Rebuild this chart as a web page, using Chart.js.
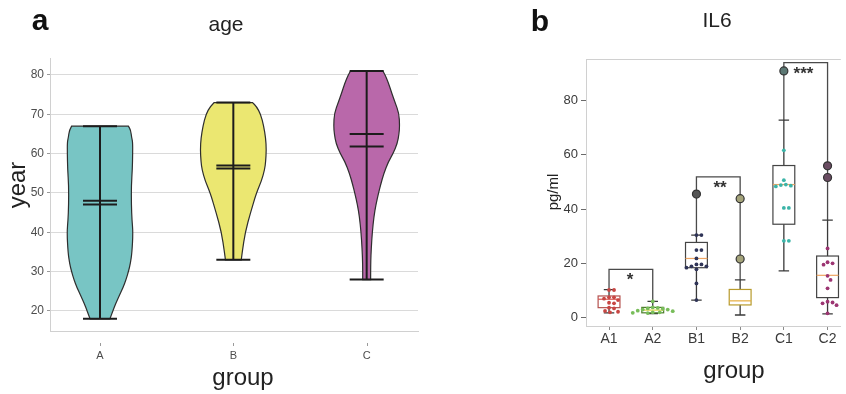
<!DOCTYPE html>
<html>
<head>
<meta charset="utf-8">
<script src="https://cdn.jsdelivr.net/npm/chart.js@4.4.1/dist/chart.umd.min.js"></script>
<style>
  html, body { margin: 0; padding: 0; background: #ffffff; }
  #wrap { position: relative; width: 846px; height: 394px; overflow: hidden; }
  #wrap canvas { position: absolute; left: 0; top: 0; }
</style>
</head>
<body>
<div id="wrap">
  <canvas id="age" width="846" height="394"></canvas>
  <canvas id="il6" width="846" height="394"></canvas>
</div>
<script>
// ---------- panel a: age per group (violins) ----------
const ageGroups = ['A', 'B', 'C'];
const ageMin = [18, 33, 28];
const ageMax = [67, 73, 81];
const ageMedian = [48.0, 57.0, 65.0];
const ageMean = [47.1, 56.2, 61.8];
const ageTicks = [20, 30, 40, 50, 60, 70, 80];

// density profile of each violin: levels (years) and relative width (max = 1)
const ageLevelsA = [18, 20, 22, 24, 26, 28, 30, 32, 35, 40, 43, 47, 52, 56, 60, 63, 64, 66, 67];
const ageDensityA = [0.30, 0.39, 0.48, 0.59, 0.70, 0.79, 0.86, 0.92, 0.97, 1.0, 0.97, 0.95, 0.95, 0.98, 0.99, 0.99, 0.96, 0.93, 0.86];
const ageLevelsB = [33, 35, 40, 45, 50, 53, 56, 58, 61, 64, 67, 70, 72, 73];
const ageDensityB = [0.24, 0.27, 0.36, 0.52, 0.70, 0.85, 0.95, 0.98, 1.0, 0.98, 0.92, 0.83, 0.70, 0.58];
const ageLevelsC = [28, 32, 36, 40, 44, 47, 50, 52, 55, 58, 60, 62.6, 65, 67, 70.3, 73, 75.4, 78, 80, 81];
const ageDensityC = [0.12, 0.12, 0.14, 0.17, 0.22, 0.28, 0.36, 0.42, 0.52, 0.66, 0.80, 0.93, 0.98, 1.0, 0.98, 0.86, 0.76, 0.66, 0.56, 0.49];

// ---------- panel b: IL6 per group (box plots) ----------
const il6Groups = ['A1', 'A2', 'B1', 'B2', 'C1', 'C2'];
const il6Low    = [1.8, 1.5, 6.5, 1.0, 17.2, 1.4];
const il6Q1     = [3.7, 1.8, 18.4, 4.7, 34.4, 7.4];
const il6Median = [6.8, 2.8, 21.8, 6.2, 49.0, 15.6];
const il6Q3     = [8.0, 3.8, 27.7, 10.4, 56.0, 22.7];
const il6High   = [10.3, 6.0, 30.4, 13.9, 72.7, 35.9];
const il6Outliers = [[], [], [45.5], [21.6, 43.8], [90.8], [51.6, 55.9]];
const il6Ticks = [0, 20, 40, 60, 80];

// individual measurements
const il6ValuesA1 = [10.2, 10.2, 7.5, 7.0, 7.5, 6.5, 5.5, 5.3, 3.7, 3.4, 2.2, 2.0, 2.5];
const il6ValuesA2 = [3.0, 2.6, 2.0, 1.8, 1.7, 2.0, 2.4, 3.0, 3.8, 3.6, 6.0, 3.3, 3.4];
const il6ValuesB1 = [30.4, 30.4, 24.9, 24.9, 21.8, 19.6, 18.9, 18.4, 18.9, 19.6, 17.8, 12.6, 6.5];
const il6ValuesC1 = [61.6, 50.6, 48.6, 48.3, 48.8, 49.0, 40.4, 40.4, 28.3, 28.3];
const il6ValuesC2 = [25.5, 20.4, 19.5, 20.0, 15.4, 13.9, 10.8, 5.9, 5.3, 5.6, 4.6, 1.6];

// significance brackets: [left group, right group, bracket height, label, label x, label y]
const il6Pairs = [
  [0, 1, 17.8, '*',   1.48, 15.0],
  [2, 3, 51.8, '**',  3.54, 48.8],
  [4, 5, 93.9, '***', 5.45, 90.7]
];

const FONT = '"Liberation Sans", Arial, Helvetica, sans-serif';

// ---------- styling ----------
const violinFill = ['#78c5c4', '#ebe771', '#b968aa'];
const VIOLIN_HALF = 0.2475;   // half width of the widest part, in category units
const boxEdge = ['#b4524f', '#4d7c2c', '#444444', '#b79a2c', '#444444', '#444444'];
const boxMedianColor = ['#d9534f', '#e3d548', '#efa562', '#e6ad3c', '#efa562', '#efa562'];
const dotColor = ['#c84643', '#78bd5a', '#2f3457', null, '#3cb4a8', '#9c3572'];
const outlierFill = ['#666', '#666', '#555555', '#a4a37a', '#5c7874', '#6a4c62'];

// ---------- helpers ----------
function traceSmooth(ctx, pts, start) {
  if (start) ctx.moveTo(pts[0][0], pts[0][1]); else ctx.lineTo(pts[0][0], pts[0][1]);
  for (let k = 1; k < pts.length - 1; k++) {
    const mx = (pts[k][0] + pts[k + 1][0]) / 2, my = (pts[k][1] + pts[k + 1][1]) / 2;
    ctx.quadraticCurveTo(pts[k][0], pts[k][1], mx, my);
  }
  const last = pts[pts.length - 1];
  ctx.lineTo(last[0], last[1]);
}

const ageLevels = [ageLevelsA, ageLevelsB, ageLevelsC];
const ageDensity = [ageDensityA, ageDensityB, ageDensityC];

const violinPlugin = {
  id: 'violins',
  beforeDatasetsDraw(chart) {
    const { ctx, scales: { x, y } } = chart;
    ctx.save();
    ageGroups.forEach((g, i) => {
      const c = i + 1;
      const lv = ageLevels[i], dn = ageDensity[i];
      const right = lv.map((v, k) => [x.getPixelForValue(c + dn[k] * VIOLIN_HALF), y.getPixelForValue(v)]);
      const left = lv.map((v, k) => [x.getPixelForValue(c - dn[k] * VIOLIN_HALF), y.getPixelForValue(v)]).reverse();
      ctx.beginPath();
      traceSmooth(ctx, right, true);
      traceSmooth(ctx, left, false);
      ctx.closePath();
      ctx.fillStyle = violinFill[i];
      ctx.fill();
      ctx.lineWidth = 1.2;
      ctx.strokeStyle = '#2e2e2e';
      ctx.stroke();
      // range line
      ctx.beginPath();
      ctx.moveTo(x.getPixelForValue(c), y.getPixelForValue(ageMin[i]));
      ctx.lineTo(x.getPixelForValue(c), y.getPixelForValue(ageMax[i]));
      ctx.lineWidth = 2;
      ctx.strokeStyle = '#1c1c1c';
      ctx.stroke();
    });
    ctx.restore();
  }
};

const ageText = {
  id: 'ageText',
  afterDraw(chart) {
    const { ctx, scales: { x } } = chart;
    ctx.save();
    ctx.fillStyle = '#111';
    ctx.textAlign = 'center';
    ctx.textBaseline = 'alphabetic';
    ctx.font = 'bold 30px ' + FONT;
    ctx.fillText('a', 40, 30);
    ctx.fillStyle = '#222';
    ctx.font = '21px ' + FONT;
    ctx.fillText('age', 226, 31);
    ctx.font = '24px ' + FONT;
    ctx.fillText('group', 243, 385);
    ctx.save();
    ctx.translate(25, 185);
    ctx.rotate(-Math.PI / 2);
    ctx.fillText('year', 0, 0);
    ctx.restore();
    // small category marks above the labels
    ctx.strokeStyle = '#9a9a9a';
    ctx.lineWidth = 1;
    ageGroups.forEach((g, i) => {
      const px = Math.round(x.getPixelForValue(i + 1)) + 0.5;
      ctx.beginPath(); ctx.moveTo(px, 343); ctx.lineTo(px, 346); ctx.stroke();
    });
    ctx.restore();
  }
};

const lineMark = (vals, label) => ({
  label,
  data: vals.map((v, i) => ({ x: i + 1, y: v })),
  pointStyle: 'line',
  pointRadius: 17,
  borderWidth: 2,
  borderColor: '#1c1c1c',
  backgroundColor: '#1c1c1c'
});

new Chart(document.getElementById('age'), {
  type: 'scatter',
  data: {
    datasets: [
      lineMark(ageMedian, 'median'),
      lineMark(ageMean, 'mean'),
      lineMark(ageMin, 'min'),
      lineMark(ageMax, 'max')
    ]
  },
  options: {
    responsive: false,
    animation: false,
    devicePixelRatio: 1,
    events: [],
    layout: { padding: { left: 0, top: 58, right: 428, bottom: 23 } },
    plugins: { legend: { display: false }, tooltip: { enabled: false } },
    scales: {
      x: {
        type: 'linear', min: 0.625, max: 3.385,
        afterBuildTicks: s => { s.ticks = ageGroups.map((g, i) => ({ value: i + 1 })); },
        afterFit: s => { s.height = 40; },
        grid: { display: false },
        border: { display: true, color: '#d0d0d0', width: 1 },
        ticks: {
          autoSkip: false, maxRotation: 0, padding: 10, color: '#4d4d4d',
          font: { family: FONT, size: 11 },
          callback: v => ageGroups[Math.round(v) - 1]
        }
      },
      y: {
        type: 'linear', min: 14.915, max: 84.32,
        afterBuildTicks: s => { s.ticks = ageTicks.map(v => ({ value: v })); },
        afterFit: s => { s.width = 50; },
        grid: { color: '#dadada', lineWidth: 1, tickLength: 3, tickColor: '#9a9a9a' },
        border: { display: true, color: '#d0d0d0', width: 1 },
        ticks: { padding: 3, color: '#4d4d4d', font: { family: FONT, size: 12 } }
      }
    }
  },
  plugins: [violinPlugin, ageText]
});

// ---------- panel b ----------
const BOX_HALF = 0.25;
const CAP_HALF = 0.12;

const boxPlugin = {
  id: 'boxes',
  beforeDatasetsDraw(chart) {
    const { ctx, chartArea, scales: { x, y } } = chart;
    ctx.save();
    // top frame line
    ctx.strokeStyle = '#d0d0d0';
    ctx.lineWidth = 1;
    ctx.beginPath();
    ctx.moveTo(chartArea.left, Math.round(chartArea.top) + 0.5);
    ctx.lineTo(chartArea.right, Math.round(chartArea.top) + 0.5);
    ctx.stroke();
    // brackets
    ctx.strokeStyle = '#4a4a4a';
    ctx.lineWidth = 1.3;
    il6Pairs.forEach(([a, b, h]) => {
      ctx.beginPath();
      ctx.moveTo(x.getPixelForValue(a + 1), y.getPixelForValue(il6High[a]));
      ctx.lineTo(x.getPixelForValue(a + 1), y.getPixelForValue(h));
      ctx.lineTo(x.getPixelForValue(b + 1), y.getPixelForValue(h));
      ctx.lineTo(x.getPixelForValue(b + 1), y.getPixelForValue(il6High[b]));
      ctx.stroke();
    });
    il6Groups.forEach((g, i) => {
      const c = i + 1;
      const px = x.getPixelForValue(c);
      // whiskers
      ctx.strokeStyle = '#3a3a3a';
      ctx.lineWidth = 1.3;
      ctx.beginPath();
      ctx.moveTo(px, y.getPixelForValue(il6Low[i]));
      ctx.lineTo(px, y.getPixelForValue(il6High[i]));
      [il6Low[i], il6High[i]].forEach(v => {
        ctx.moveTo(x.getPixelForValue(c - CAP_HALF), y.getPixelForValue(v));
        ctx.lineTo(x.getPixelForValue(c + CAP_HALF), y.getPixelForValue(v));
      });
      ctx.stroke();
      // box
      const l = x.getPixelForValue(c - BOX_HALF), r = x.getPixelForValue(c + BOX_HALF);
      const t = y.getPixelForValue(il6Q3[i]), b = y.getPixelForValue(il6Q1[i]);
      ctx.fillStyle = '#ffffff';
      ctx.fillRect(l, t, r - l, b - t);
      ctx.strokeStyle = boxEdge[i];
      ctx.lineWidth = 1.2;
      ctx.strokeRect(l, t, r - l, b - t);
      // median
      ctx.strokeStyle = boxMedianColor[i];
      ctx.lineWidth = 1.2;
      ctx.beginPath();
      ctx.moveTo(l, y.getPixelForValue(il6Median[i]));
      ctx.lineTo(r, y.getPixelForValue(il6Median[i]));
      ctx.stroke();
    });
    ctx.restore();
  },
  afterDraw(chart) {
    const { ctx, scales: { x, y } } = chart;
    ctx.save();
    ctx.textAlign = 'center';
    ctx.textBaseline = 'alphabetic';
    ctx.fillStyle = '#111';
    ctx.font = 'bold 30px ' + FONT;
    ctx.fillText('b', 540, 31);
    ctx.fillStyle = '#222';
    ctx.font = '21px ' + FONT;
    ctx.fillText('IL6', 717, 27);
    ctx.font = '24px ' + FONT;
    ctx.fillText('group', 734, 378);
    ctx.save();
    ctx.translate(558, 192);
    ctx.rotate(-Math.PI / 2);
    ctx.font = '15px ' + FONT;
    ctx.fillText('pg/ml', 0, 0);
    ctx.restore();
    // significance stars
    ctx.fillStyle = '#333';
    ctx.font = 'bold 17px ' + FONT;
    ctx.textBaseline = 'middle';
    il6Pairs.forEach(([a, b, h, label, lx, ly]) => {
      ctx.fillText(label, x.getPixelForValue(lx), y.getPixelForValue(ly) + 3);
    });
    ctx.restore();
  }
};

const il6Values = [il6ValuesA1, il6ValuesA2, il6ValuesB1, null, il6ValuesC1, il6ValuesC2];

const dotSets = [];
il6Values.forEach((vals, i) => {
  if (!vals) return;
  dotSets.push({
    label: il6Groups[i],
    group: i,
    data: vals.map(v => ({ x: i + 1, y: v })),
    pointRadius: 1.9,
    pointBorderWidth: 0,
    backgroundColor: dotColor[i],
    borderColor: dotColor[i]
  });
});
const outlierSets = il6Outliers.map((vals, i) => ({
  label: il6Groups[i] + ' outliers',
  data: vals.map(v => ({ x: i + 1, y: v })),
  pointRadius: 4,
  pointBorderWidth: 1.2,
  backgroundColor: outlierFill[i],
  borderColor: '#333333'
}));

const il6Chart = new Chart(document.getElementById('il6'), {
  type: 'scatter',
  data: { datasets: dotSets.concat(outlierSets) },
  options: {
    responsive: false,
    animation: false,
    devicePixelRatio: 1,
    events: [],
    layout: { padding: { left: 0, top: 59, right: 0, bottom: 28 } },
    plugins: { legend: { display: false }, tooltip: { enabled: false } },
    scales: {
      x: {
        type: 'linear', min: 0.473, max: 6.303,
        afterBuildTicks: s => { s.ticks = il6Groups.map((g, i) => ({ value: i + 1 })); },
        afterFit: s => { s.height = 40; },
        grid: { display: true, drawOnChartArea: false, tickLength: 4, color: '#8a8a8a' },
        border: { display: true, color: '#d0d0d0', width: 1 },
        ticks: {
          autoSkip: false, maxRotation: 0, padding: 1, color: '#3a3a3a',
          font: { family: FONT, size: 14 },
          callback: v => il6Groups[Math.round(v) - 1]
        }
      },
      y: {
        type: 'linear', min: -3.05, max: 95.2,
        afterBuildTicks: s => { s.ticks = il6Ticks.map(v => ({ value: v })); },
        afterFit: s => { s.width = 586; },
        grid: { display: true, drawOnChartArea: false, tickLength: 5, color: '#6a6a6a' },
        border: { display: true, color: '#d0d0d0', width: 1 },
        ticks: { padding: 3, color: '#3a3a3a', font: { family: FONT, size: 13 } }
      }
    }
  },
  plugins: [boxPlugin]
});

// spread the individual measurements sideways so that dots do not overlap
(function arrangeDots(chart) {
  const xs = chart.scales.x, ys = chart.scales.y;
  const minDist = 4.6;
  chart.data.datasets.forEach(ds => {
    if (ds.group === undefined) return;
    const cx = xs.getPixelForValue(ds.group + 1);
    const placed = [];
    const order = ds.data.map((p, k) => k).sort((a, b) => ds.data[b].y - ds.data[a].y);
    order.forEach(k => {
      const py = ys.getPixelForValue(ds.data[k].y);
      for (let step = 0; step < 60; step++) {
        const off = step === 0 ? 0 : (step % 2 ? 1 : -1) * Math.ceil(step / 2);
        const px = cx + off;
        if (placed.every(([qx, qy]) => Math.hypot(qx - px, qy - py) >= minDist)) {
          placed.push([px, py]);
          ds.data[k] = { x: xs.getValueForPixel(px), y: ds.data[k].y };
          break;
        }
      }
    });
  });
  chart.update('none');
})(il6Chart);
</script>
</body>
</html>
